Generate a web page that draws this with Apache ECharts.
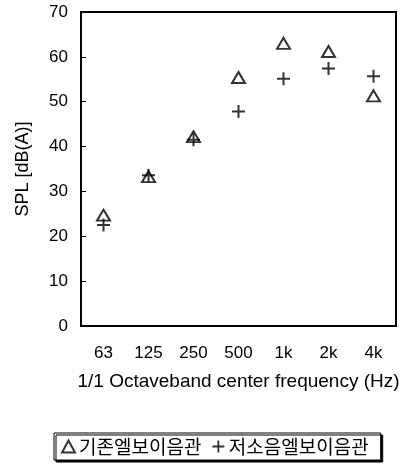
<!DOCTYPE html>
<html><head><meta charset="utf-8">
<script src="https://cdn.jsdelivr.net/npm/echarts@6/dist/echarts.min.js"></script>
<style>html,body{margin:0;padding:0;background:#fff}#c{width:405px;height:465px}</style>
</head><body><div id="c"></div>
<script>
const categories = ['63', '125', '250', '500', '1k', '2k', '4k'];
const existingElbow = [24.7, 33.3, 42.2, 55.4, 63.0, 61.2, 51.3];
const lowNoiseElbow = [22.5, 33.6, 41.5, 47.8, 55.1, 57.4, 55.7];
const seriesNames = ['기존엘보이음관', '저소음엘보이음관'];
const yTicks = { min: 0, max: 70, interval: 10 };

const plusPath = 'path://M0,5.5L13,5.5L13,7.5L0,7.5Z M5.5,0L7.5,0L7.5,13L5.5,13Z';
const chart = echarts.init(document.getElementById('c'));
chart.setOption({
  animation: false,
  backgroundColor: '#fff',
  grid: { left: 81, top: 12, right: 9, bottom: 139, show: true, borderColor: '#000', borderWidth: 2, backgroundColor: 'transparent' },
  xAxis: {
    type: 'category', data: categories, boundaryGap: true,
    axisLine: { lineStyle: { color: '#000', width: 2 } },
    axisTick: { inside: true, length: 5, lineStyle: { color: '#000', width: 1 } },
    axisLabel: { color: '#000', fontSize: 17, fontFamily: 'Liberation Sans', margin: 19 },
    name: '1/1 Octaveband center frequency (Hz)', nameLocation: 'middle', nameGap: 46,
    nameTextStyle: { color: '#000', fontSize: 19, fontFamily: 'Liberation Sans' }
  },
  yAxis: {
    type: 'value', min: yTicks.min, max: yTicks.max, interval: yTicks.interval,
    axisLine: { show: true, lineStyle: { color: '#000', width: 2 } },
    axisTick: { show: true, inside: true, length: 5, lineStyle: { color: '#000', width: 1 } },
    splitLine: { show: false },
    axisLabel: { color: '#000', fontSize: 17, fontFamily: 'Liberation Sans', margin: 13 },
    name: 'SPL [dB(A)]', nameLocation: 'middle', nameGap: 49, nameRotate: 90,
    nameTextStyle: { color: '#000', fontSize: 18, fontFamily: 'Liberation Sans' }
  },
  legend: {
    left: 54, top: 433, orient: 'horizontal',
    padding: [4, 12, 4, 7], itemGap: 11, itemWidth: 13, itemHeight: 12,
    backgroundColor: '#fff', borderColor: '#000', borderWidth: 1,
    shadowColor: '#000', shadowOffsetX: 2, shadowOffsetY: 2, shadowBlur: 0,
    textStyle: { color: '#000', fontSize: 19, fontFamily: 'Noto Sans CJK KR', padding: [0, 0, 0, -1] },
    data: [
      { name: seriesNames[0], icon: 'triangle', itemStyle: { color: '#fff', borderColor: '#000', borderWidth: 2 } },
      { name: seriesNames[1], icon: plusPath, itemStyle: { color: '#000' } }
    ]
  },
  series: [
    { name: seriesNames[0], type: 'scatter', data: existingElbow, symbol: 'triangle', symbolSize: [13, 11],
      itemStyle: { color: 'rgba(255,255,255,0)', borderColor: '#000', borderWidth: 2 }, z: 3 },
    { name: seriesNames[1], type: 'scatter', data: lowNoiseElbow, symbol: plusPath, symbolSize: 13,
      itemStyle: { color: '#000' }, z: 2 }
  ]
});
</script></body></html>
